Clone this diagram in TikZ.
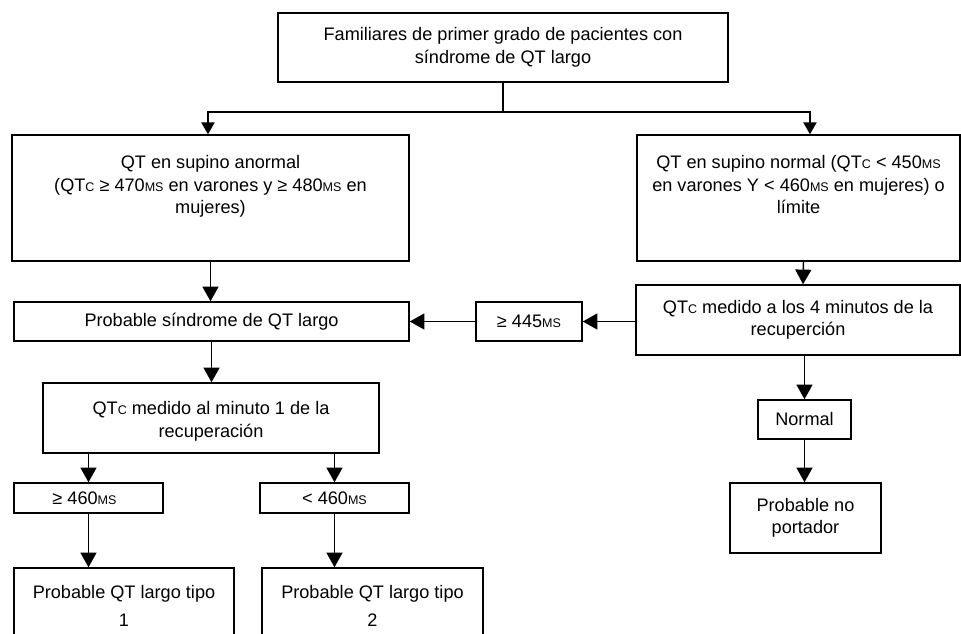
\documentclass[tikz,border=0pt]{standalone}
\usepackage{fontspec}
\setmainfont{Liberation Sans}
\usetikzlibrary{arrows.meta}
\newcommand\smc[1]{{\fontsize{9.4}{10}\selectfont #1}}
\tikzset{
  box/.style={draw=black, line width=1.1pt, rectangle, align=center, inner sep=0pt,
    font=\fontsize{13.6}{16.8}\selectfont},
  arr/.style={line width=1.1pt, -{Triangle[width=12pt,length=11pt]}},
  arrs/.style={line width=1.1pt, -{Triangle[width=10pt,length=9pt]}},
  ln/.style={line width=1.1pt}
}
\begin{document}
\begin{tikzpicture}[x=0.75pt,y=-0.75pt]
\useasboundingbox (0,0) rectangle (961,633);
\clip (0,0) rectangle (961,633);
% nodes
\node[box, minimum width=337.5pt, minimum height=51.75pt, font=\fontsize{13.6}{17.25}\selectfont] (top) at (503,47.5)
  {Familiares de primer grado de pacientes con\\síndrome de QT largo};
\node[box, minimum width=297.75pt, minimum height=94.5pt] (L1) at (210.5,198)
  {QT en supino anormal\\(QT\smc{C} ≥ 470\smc{MS} en varones y ≥ 480\smc{MS} en\\mujeres)\\[3pt]\mbox{}};
\node[box, minimum width=242.25pt, minimum height=94.5pt] (R1) at (798.5,198)
  {QT en supino normal (QT\smc{C} < 450\smc{MS}\\en varones Y < 460\smc{MS} en mujeres) o\\límite\\[3pt]\mbox{}};
\node[box, minimum width=296.25pt, minimum height=29.25pt] (P) at (211.5,321.5)
  {Probable síndrome de QT largo};
\node[box, minimum width=79.5pt, minimum height=29.25pt] (G445) at (529,321.5)
  {≥ 445\smc{MS}};
\node[box, minimum width=243pt, minimum height=52.5pt] (R2) at (798,320)
  {QT\smc{C} medido a los 4 minutos de la\\recuperción};
\node[box, minimum width=252pt, minimum height=52.5pt] (M1) at (211,418)
  {\raisebox{-2.5pt}[\height][\depth]{\begin{tabular}{@{}c@{}}QT\smc{C} medido al minuto 1 de la\\recuperación\end{tabular}}};
\node[box, minimum width=111.75pt, minimum height=22.5pt] (G460) at (88.5,498)
  {≥ 460\smc{MS}\hspace*{6pt}};
\node[box, minimum width=111.75pt, minimum height=22.5pt] (L460) at (334.5,498)
  {< 460\smc{MS}};
\node[box, minimum width=165pt, minimum height=57pt, font=\fontsize{13.6}{21}\selectfont] (T1) at (124,606)
  {Probable QT largo tipo\\1};
\node[box, minimum width=165.75pt, minimum height=57pt, font=\fontsize{13.6}{21}\selectfont] (T2) at (372.5,606)
  {Probable QT largo tipo\\2};
\node[box, minimum width=69.75pt, minimum height=29.25pt] (N) at (804.5,419.5)
  {Normal};
\node[box, minimum width=113.25pt, minimum height=52.5pt] (NP) at (805.5,518)
  {Probable no\\portador};
% connectors
\coordinate (j) at (503,112);
\draw[ln] (top.south) -- (j);
\draw[arrs] (j) -| ([xshift=-1.9pt]L1.north);
\draw[arrs] (j) -| ([xshift=8.6pt]R1.north);
\draw[arr] (L1.south) -- (L1.south |- P.north);
\draw[arr] ([xshift=3.75pt]R1.south) -- ([xshift=3.75pt]R2.north);
\draw[arr] (G445.east -| R2.west) -- (G445.east);
\draw[arr] (G445.west) -- (P.east);
\draw[arr] (P.south) -- (P.south |- M1.north);
\draw[arr] (M1.south -| G460.north) -- (G460.north);
\draw[arr] (M1.south -| L460.north) -- (L460.north);
\draw[arr] (G460.south) -- (G460.south |- T1.north);
\draw[arr] (L460.south) -- (L460.south |- T2.north);
\draw[arr] (N.north |- R2.south) -- (N.north);
\draw[arr] (N.south) -- (N.south |- NP.north);
\end{tikzpicture}
\end{document}
